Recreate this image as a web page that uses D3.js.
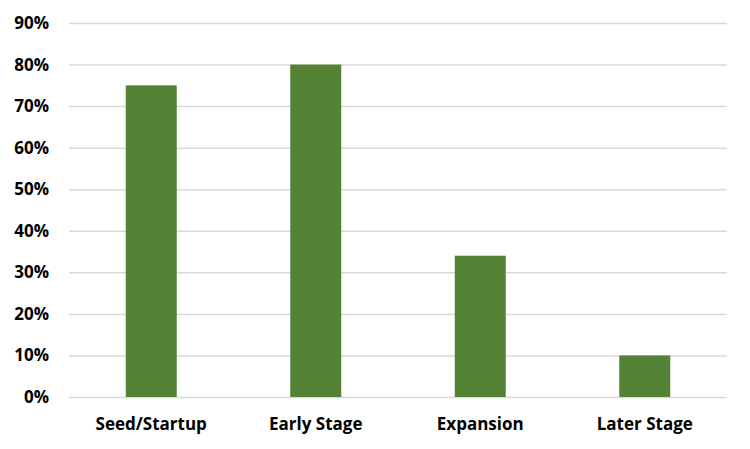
<!DOCTYPE html>
<html><head><meta charset="utf-8">
<script src="https://cdn.jsdelivr.net/npm/d3@7"></script>
<style>body{margin:0;background:#fff}svg{display:block}</style>
</head><body>
<script>
const categories = ["Seed/Startup", "Early Stage", "Expansion", "Later Stage"];
const values = [0.75, 0.80, 0.34, 0.10];
const yTicks = [0, 0.1, 0.2, 0.3, 0.4, 0.5, 0.6, 0.7, 0.8, 0.9];

const W = 750, H = 449;
const mLeft = 69, mRight = 727, mTop = 23, mBottom = 397;
const svg = d3.select("body").append("svg").attr("width", W).attr("height", H);
const font = "'Open Sans', Lato, sans-serif";

const x = d3.scaleBand().domain(categories).range([mLeft, mRight]).paddingInner(0.69).paddingOuter(0.345);
const y = d3.scaleLinear().domain([0, 0.9]).range([mBottom, mTop]);

const yAxis = svg.append("g").attr("transform", `translate(${mLeft},0)`)
  .call(d3.axisLeft(y).tickValues(yTicks).tickFormat(d3.format(".0%")).tickSize(-(mRight - mLeft)).tickPadding(20));
yAxis.select(".domain").remove();
yAxis.selectAll("line").attr("stroke", "#d9d9d9").attr("stroke-width", 1.5);
yAxis.selectAll("text").attr("font-family", font).attr("font-weight", "bold").attr("font-size", 17).attr("fill", "#000");

svg.append("g").selectAll("rect").data(values).join("rect")
  .attr("x", (d, i) => x(categories[i]))
  .attr("width", x.bandwidth())
  .attr("y", d => y(d))
  .attr("height", d => y(0) - y(d))
  .attr("fill", "#548235");

const xAxis = svg.append("g").attr("transform", `translate(0,${mBottom})`)
  .call(d3.axisBottom(x).tickSize(0).tickPadding(21));
xAxis.select(".domain").remove();
xAxis.selectAll("text").attr("font-family", font).attr("font-weight", "bold").attr("font-size", 17).attr("fill", "#000");
</script>
</body></html>
